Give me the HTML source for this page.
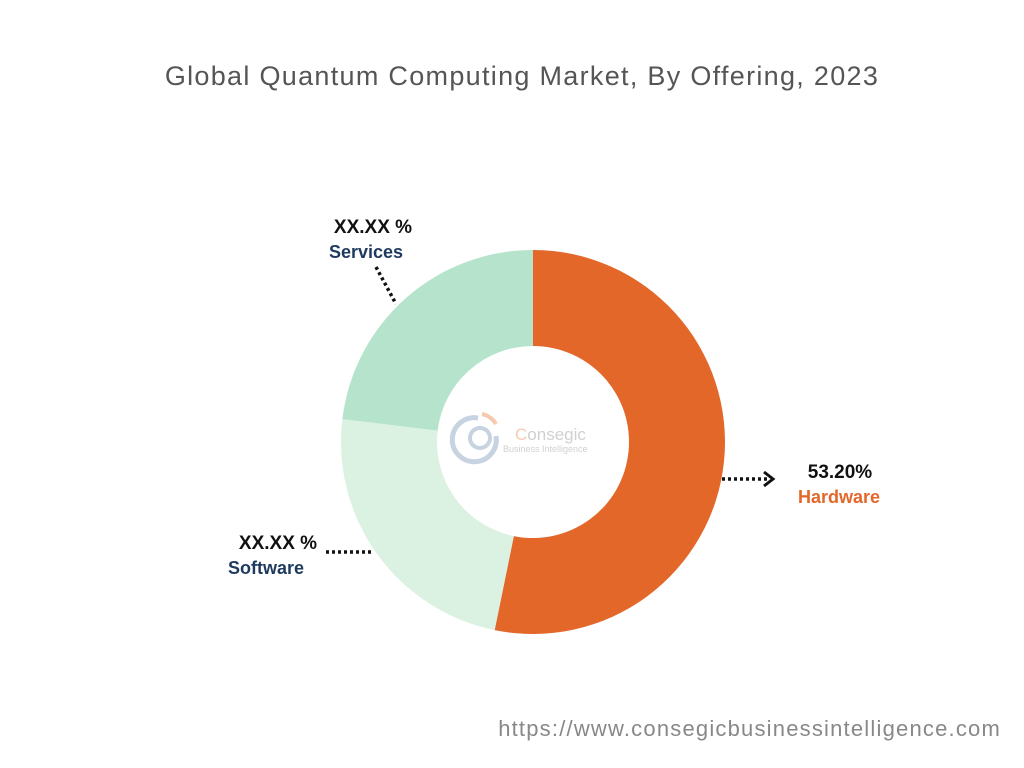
<!DOCTYPE html>
<html><head><meta charset="utf-8"><style>
body{margin:0;width:1024px;height:768px;background:#fff;font-family:"Liberation Sans",sans-serif;overflow:hidden}
svg{position:absolute;left:0;top:0}
</style></head><body>
<svg width="1024" height="768">
<text x="522" y="85" text-anchor="middle" font-size="27" letter-spacing="1.3" fill="#555">Global Quantum Computing Market, By Offering, 2023</text>
<g id="slices"></g>
<g opacity="0.55">
<path d="M478 418 A22 22 0 1 0 496 436" fill="none" stroke="#9ab0c8" stroke-width="5"/>
<circle cx="480" cy="438" r="10" fill="none" stroke="#9ab0c8" stroke-width="4"/>
<path d="M482 414 A22 22 0 0 1 496 424" fill="none" stroke="#f0a070" stroke-width="4"/>
<text x="515" y="440" font-size="17" fill="#aaa"><tspan fill="#f0a070">C</tspan>onsegic</text>
<text x="503" y="452" font-size="9" fill="#aaa">Business Intelligence</text>
</g>
<g font-weight="bold" font-size="19">
<text x="373" y="233" text-anchor="middle" fill="#111">XX.XX %</text>
<text x="366" y="258" text-anchor="middle" fill="#1e3a5f" font-size="18">Services</text>
<text x="278" y="549" text-anchor="middle" fill="#111">XX.XX %</text>
<text x="266" y="574" text-anchor="middle" fill="#1e3a5f" font-size="18">Software</text>
<text x="840" y="478" text-anchor="middle" fill="#111">53.20%</text>
<text x="839" y="503" text-anchor="middle" fill="#e4672a" font-size="18">Hardware</text>
</g>
<g stroke="#111" stroke-width="3.5" stroke-dasharray="3,3" fill="none">
<line x1="376" y1="267" x2="396" y2="304"/>
<line x1="326" y1="552" x2="374" y2="552"/>
<line x1="722" y1="479" x2="768" y2="479"/>
</g>
<path d="M764 472 L773 479 L764 486" fill="none" stroke="#111" stroke-width="3"/>
<text x="1001" y="736" text-anchor="end" font-size="22" letter-spacing="1.2" fill="#888">https://www.consegicbusinessintelligence.com</text>
</svg>
<script>
const categories=["Hardware","Software","Services"];
const values=[53.2,23.7,23.1];
const colors=["#e4672a","#dbf2e3","#b6e3cb"];
const cx=533,cy=442,R=192,r=96;
const g=document.getElementById('slices');
const total=values.reduce((a,b)=>a+b,0);
function pt(a,rad){return [cx+rad*Math.sin(a),cy-rad*Math.cos(a)];}
let a0=0;
values.forEach((v,i)=>{
 const a1=a0+v/total*2*Math.PI;
 const large=(a1-a0)>Math.PI?1:0;
 const [x0,y0]=pt(a0,R),[x1,y1]=pt(a1,R),[x2,y2]=pt(a1,r),[x3,y3]=pt(a0,r);
 const p=document.createElementNS('http://www.w3.org/2000/svg','path');
 p.setAttribute('d',`M${x0} ${y0} A${R} ${R} 0 ${large} 1 ${x1} ${y1} L${x2} ${y2} A${r} ${r} 0 ${large} 0 ${x3} ${y3} Z`);
 p.setAttribute('fill',colors[i]);
 
 
 g.appendChild(p);
 a0=a1;
});
</script>
</body></html>
